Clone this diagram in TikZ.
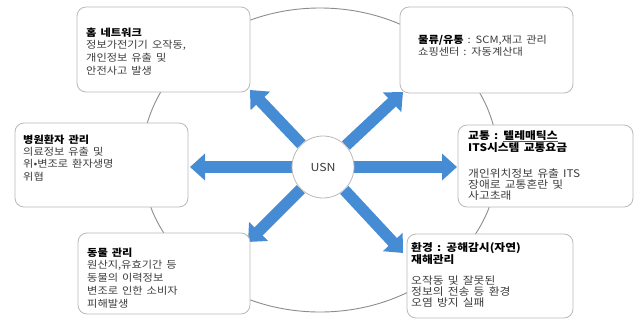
\documentclass[tikz,border=0pt]{standalone}
\usepackage{fontspec}
\setmainfont{Noto Sans CJK KR}[FakeStretch=1.12,WordSpace=1.6]
\usetikzlibrary{arrows.meta,backgrounds}
\definecolor{arrowblue}{RGB}{70,140,212}
\definecolor{boxgray}{RGB}{185,185,185}
\definecolor{ringgray}{RGB}{140,140,140}
\definecolor{textgray}{RGB}{60,60,60}
\definecolor{ulred}{RGB}{150,60,60}
\tikzset{
  boxnode/.style={draw=boxgray, fill=white, rounded corners=9pt, line width=0.8pt, inner sep=0pt},
  txt/.style={anchor=north west, align=left, inner sep=0pt, text=textgray, font=\fontsize{10}{12.8}\selectfont},
  txtsmall/.style={txt, font=\fontsize{10.5}{11.3}\selectfont},
  bigarrow/.style={draw=arrowblue, line width=11.5pt, -{Triangle[width=26pt,length=15pt]}},
}
\newcommand{\ttl}[1]{\textcolor{black}{\textbf{#1}}}
\begin{document}
\begin{tikzpicture}[x=1pt,y=-1pt]
\useasboundingbox (0,0) rectangle (640,322);
% boxes
\node[boxnode, minimum width=173pt, minimum height=85pt] (b1) at (163.5,49.5) {};
\node[boxnode, minimum width=173pt, minimum height=86pt] (b2) at (486.5,50) {};
\node[boxnode, minimum width=173pt, minimum height=84pt] (b3) at (101.5,165) {};
\node[boxnode, minimum width=175pt, minimum height=82pt] (b4) at (545.5,166) {};
\node[boxnode, minimum width=172pt, minimum height=81pt] (b5) at (164,273.5) {};
\node[boxnode, minimum width=166pt, minimum height=84pt] (b6) at (490,276) {};
% texts
\node[txt] (t1) at (86,27.5) {\ttl{홈 네트워크}\\정보가전기기 오작동,\\개인정보 유출 및\\안전사고 발생};
\node[txt, font=\fontsize{10}{12}\selectfont] (t2) at (418,35.5) {\ttl{물류/유통} : SCM,재고 관리\\쇼핑센터 : 자동계산대};
\node[txt, font=\fontsize{10}{12.4}\selectfont] (t3) at (23,134.5) {\ttl{병원환자 관리}\\의료정보 유출 및\\위•변조로 환자생명\\위협};
\node[txtsmall] (t4) at (468,130) {\ttl{교통 : \textcolor{ulred}{\underline{\textcolor{black}{텔레매틱스}}}}\\\ttl{ITS시스템 교통요금}\\[14pt]개인위치정보 유출 ITS\\장애로 교통혼란 및\\사고초래};
\node[txt] (t5) at (87,247.5) {\ttl{동물 관리}\\원산지,유효기간 등\\동물의 이력정보\\변조로 인한 소비자\\피해발생};
\node[txtsmall, font=\fontsize{10.5}{10.8}\selectfont] (t6) at (411,242) {\ttl{환경 : 공해감시(자연)}\\\ttl{재해관리}\\[11pt]오작동 및 잘못된\\정보의 전송 등 환경\\오염 방지 실패};
% center
\node[draw=boxgray, fill=white, circle, minimum size=62pt, line width=0.8pt, text=textgray, font=\fontsize{11}{13}\selectfont] (usn) at (323,167) {USN};
\coordinate (a1) at (250,90);
\coordinate (a2) at (403,92);
\coordinate (a3) at (190,167);
\coordinate (a4) at (457,167);
\coordinate (a5) at (248,242);
\coordinate (a6) at (403,253);
\begin{pgfonlayer}{background}
  \draw[ringgray, line width=0.9pt] (320,160) ellipse [x radius=178pt, y radius=152pt];
  \foreach \t in {a1,a2,a3,a4,a5,a6} { \draw[bigarrow] (usn) -- (\t); }
\end{pgfonlayer}
\end{tikzpicture}
\end{document}
